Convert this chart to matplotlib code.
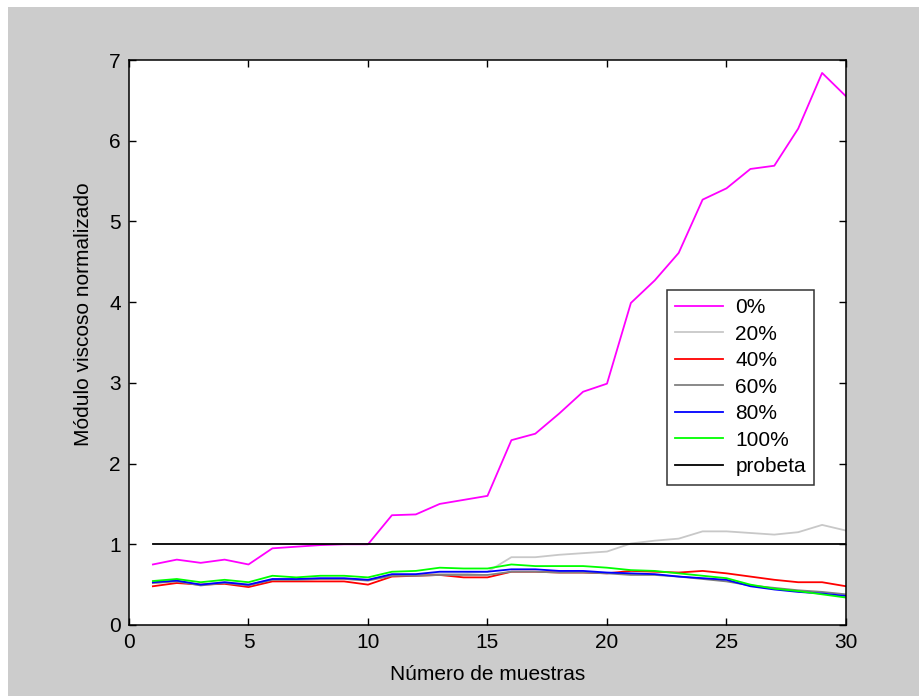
import numpy as np
import matplotlib
matplotlib.use("Agg")
import matplotlib.pyplot as plt
from matplotlib.patches import Rectangle

plt.rcParams['font.family'] = ['Liberation Sans Narrow', 'Liberation Sans', 'DejaVu Sans']

# numero de muestra
muestras = np.arange(1, 31)

# modulo viscoso normalizado para cada porcentaje
m0 = [0.75, 0.81, 0.77, 0.81, 0.75, 0.95, 0.97, 0.99, 1.00, 1.00,
      1.36, 1.37, 1.50, 1.55, 1.60, 2.29, 2.37, 2.62, 2.89, 2.99,
      3.99, 4.27, 4.61, 5.27, 5.41, 5.65, 5.69, 6.15, 6.84, 6.55]
m20 = [0.52, 0.55, 0.50, 0.53, 0.50, 0.56, 0.56, 0.57, 0.57, 0.56,
       0.62, 0.62, 0.64, 0.64, 0.66, 0.84, 0.84, 0.87, 0.89, 0.91,
       1.01, 1.045, 1.07, 1.16, 1.16, 1.14, 1.12, 1.15, 1.24, 1.17]
m40 = [0.48, 0.52, 0.50, 0.51, 0.47, 0.54, 0.54, 0.54, 0.54, 0.50,
       0.60, 0.61, 0.62, 0.59, 0.59, 0.66, 0.66, 0.65, 0.65, 0.64,
       0.67, 0.66, 0.65, 0.67, 0.64, 0.60, 0.56, 0.53, 0.53, 0.48]
m60 = [0.52, 0.54, 0.49, 0.52, 0.49, 0.56, 0.56, 0.57, 0.57, 0.55,
       0.61, 0.61, 0.62, 0.62, 0.62, 0.66, 0.66, 0.65, 0.65, 0.64,
       0.62, 0.62, 0.60, 0.57, 0.54, 0.49, 0.46, 0.43, 0.41, 0.38]
m80 = [0.53, 0.55, 0.50, 0.53, 0.50, 0.57, 0.57, 0.58, 0.58, 0.56,
       0.63, 0.63, 0.66, 0.66, 0.66, 0.69, 0.69, 0.67, 0.67, 0.65,
       0.64, 0.63, 0.60, 0.58, 0.56, 0.48, 0.44, 0.41, 0.39, 0.36]
m100 = [0.545, 0.57, 0.53, 0.56, 0.53, 0.61, 0.59, 0.61, 0.61, 0.59,
        0.66, 0.67, 0.71, 0.70, 0.70, 0.75, 0.73, 0.73, 0.73, 0.71,
        0.68, 0.67, 0.64, 0.61, 0.58, 0.50, 0.45, 0.42, 0.38, 0.34]
probeta = [1.0] * 30

series = [m0, m20, m40, m60, m80, m100, probeta]
etiquetas = ['0%', '20%', '40%', '60%', '80%', '100%', 'probeta']
colores = ['#ff00ff', '#c8c8c8', '#ff0000', '#808080', '#0000ff', '#00ff00', '#000000']

fig = plt.figure(figsize=(9.2, 6.96), dpi=100)
fig.patch.set_facecolor('white')
# fondo gris de la ventana
fig.patches.append(Rectangle((8 / 920, 0), 1, 1 - 7 / 696, transform=fig.transFigure,
                             facecolor='#cccccc', edgecolor='none', zorder=-10))

ax = fig.add_axes([129 / 920, 1 - 625 / 696, 717 / 920, 565 / 696])
ax.set_facecolor('white')

for y, lab, c in zip(series, etiquetas, colores):
    ax.plot(muestras, y, color=c, lw=1.3, label=lab)

ax.set_xlim(0, 30)
ax.set_ylim(0, 7)
ax.set_xticks(range(0, 31, 5))
ax.set_yticks(range(0, 8))
ax.tick_params(direction='in', top=True, right=True, length=5, width=1,
               labelsize=15, pad=6)
for s in ax.spines.values():
    s.set_linewidth(1.1)

ax.set_xlabel('Número de muestras', fontsize=15, labelpad=9)
ax.set_ylabel('Módulo viscoso normalizado', fontsize=15)
ax.yaxis.set_label_coords(-0.050, 0.55)

leg = ax.legend(loc='upper left', bbox_to_anchor=(0.750, 0.593), fontsize=15,
                frameon=True, fancybox=False, edgecolor='black',
                handlelength=2.3, handletextpad=0.6, labelspacing=0.36,
                borderpad=0.4, borderaxespad=0)
leg.get_frame().set_linewidth(1.1)

fig.savefig('out.png', dpi=100, facecolor=fig.get_facecolor())
